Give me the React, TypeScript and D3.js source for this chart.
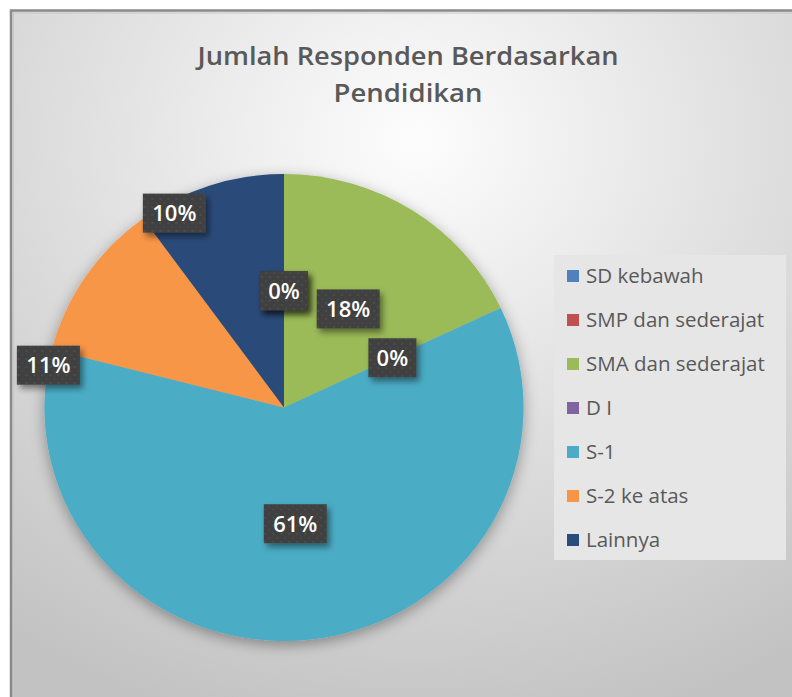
import React from 'react';
import * as d3 from 'd3';

const categories = ['SD kebawah', 'SMP dan sederajat', 'SMA dan sederajat', 'D I', 'S-1', 'S-2 ke atas', 'Lainnya'];
const percents = [0, 0, 18, 0, 61, 11, 10];
const colors = ['#4f81bd', '#c0504d', '#9bbb59', '#8064a2', '#4bacc6', '#f79646', '#294c7a'];
const titleLines = ['Jumlah Responden Berdasarkan', 'Pendidikan'];

const WIDTH = 792;
const HEIGHT = 697;
const CX = 284;
const CY = 407.5;
const RADIUS = 233.5;
const STRETCH = 1.026;

// best-fit tweaks for the two slices whose labels sit near the rim
// t = position across the slice (0 = start), k = share of the radius
const labelFit: Record<string, { t: number; k: number }> = {
    'S-2 ke atas': { t: -0.1, k: 1.0 },
    'Lainnya': { t: 0.2, k: 0.95 }
};

const data = categories.map((label, i) => ({ label, value: percents[i], color: colors[i] }));

export default function App() {
    const pie = d3.pie<{ label: string; value: number; color: string }>()
        .value(d => d.value)
        .sort(null);
    const arcs = pie(data);

    const arc = d3.arc<d3.PieArcDatum<any>>()
        .innerRadius(0)
        .outerRadius(RADIUS);

    function labelPos(d: d3.PieArcDatum<any>) {
        const fit = labelFit[d.data.label] || { t: 0.5, k: 0.5 };
        const a = d.startAngle + fit.t * (d.endAngle - d.startAngle);
        const r = RADIUS * fit.k;
        return [CX + Math.sin(a) * r * STRETCH, CY - Math.cos(a) * r];
    }

    const legendY = d3.scaleBand<string>()
        .domain(categories)
        .range([254, 562]);

    return (
        <svg width={WIDTH} height={HEIGHT} style={{ position: 'absolute', left: 0, top: 0 }}
            fontFamily="'Open Sans', sans-serif">
            <defs>
                <radialGradient id="bg" cx="50%" cy="18%" r="85%">
                    <stop offset="0" stopColor="#fdfdfd" />
                    <stop offset="0.45" stopColor="#e2e2e2" />
                    <stop offset="0.8" stopColor="#cecece" />
                    <stop offset="1" stopColor="#c2c2c2" />
                </radialGradient>
                <filter id="pieShadow" x="-20%" y="-20%" width="140%" height="140%">
                    <feDropShadow dx="0" dy="4" stdDeviation="7" floodColor="#000" floodOpacity="0.35" />
                </filter>
                <filter id="boxShadow" x="-30%" y="-30%" width="160%" height="160%">
                    <feDropShadow dx="3" dy="4" stdDeviation="3" floodColor="#000" floodOpacity="0.45" />
                </filter>
                <pattern id="dots" width="8" height="8" patternUnits="userSpaceOnUse">
                    <rect width="8" height="8" fill="#3f3f3f" />
                    <circle cx="2" cy="2" r="0.9" fill="#555" />
                    <circle cx="6" cy="6" r="0.9" fill="#4c4c4c" />
                </pattern>
            </defs>

            <rect x={0} y={0} width={WIDTH} height={HEIGHT} fill="#fff" />
            <rect x={11} y={10.5} width={WIDTH + 20} height={HEIGHT + 20} fill="url(#bg)"
                stroke="#8a8a8a" strokeWidth={2.5} />
            <rect x={13.5} y={13} width={WIDTH + 20} height={HEIGHT + 20} fill="none"
                stroke="#c8c8c8" strokeWidth={1} />

            {titleLines.map((t, i) => (
                <text key={t} x={408} y={65 + i * 37} textAnchor="middle" fontSize={26}
                    fontWeight={600} fill="#595959" textLength={i === 0 ? 421 : 149}
                    lengthAdjust="spacingAndGlyphs">{t}</text>
            ))}

            <g transform={`translate(${CX},${CY}) scale(${STRETCH},1)`} filter="url(#pieShadow)">
                {arcs.map(d => (
                    <path key={d.data.label} d={arc(d) || ''} fill={d.data.color} />
                ))}
            </g>

            {arcs.map(d => {
                const [x, y] = labelPos(d);
                const txt = Math.round(d.data.value) + '%';
                const w = 15 * txt.length + 18;
                return (
                    <g key={'lbl' + d.data.label} transform={`translate(${x},${y})`}>
                        <rect x={-w / 2} y={-19.5} width={w} height={39} fill="url(#dots)"
                            filter="url(#boxShadow)" />
                        <text x={0} y={8} textAnchor="middle" fontSize={22} fontWeight={600}
                            fill="#fff">{txt}</text>
                    </g>
                );
            })}

            <rect x={554} y={255} width={232} height={305} fill="#e6e6e6" />
            {data.map(d => {
                const y = (legendY(d.label) || 0) + legendY.bandwidth() / 2;
                return (
                    <g key={'leg' + d.label}>
                        <rect x={567} y={y - 6} width={12} height={12} fill={d.color} />
                        <text x={586} y={y + 7} fontSize={20.5} fill="#595959">{d.label}</text>
                    </g>
                );
            })}
        </svg>
    );
}
